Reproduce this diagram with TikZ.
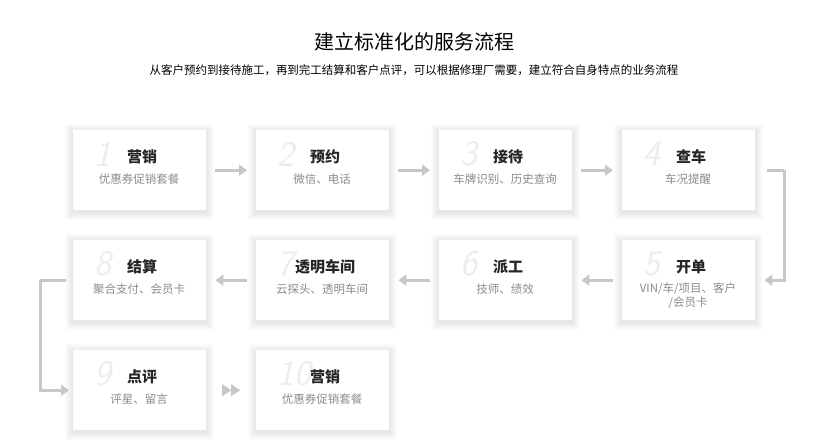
\documentclass[tikz,border=0pt]{standalone}
\usepackage{fontspec}
\setmainfont{Noto Sans CJK SC}
\usetikzlibrary{arrows.meta,calc}
\begin{document}
\begin{tikzpicture}[x=1pt,y=-1pt,
  card/.style={draw=none,fill=white,minimum width=133pt,minimum height=80pt,anchor=north west},
  ttl/.style={font=\fontsize{15}{17}\selectfont\bfseries,text=black!85},
  sub/.style={font=\fontsize{11.5}{14}\selectfont,text=black!45,align=center},
  num/.style={font=\fontsize{36}{36}\sffamily\itshape,text=black!7},
  conn/.style={draw=black!22,line width=3pt,-{Triangle[length=8pt,width=11pt]}},
  link/.style={draw=black!22,line width=3pt}]
\useasboundingbox (0,0) rectangle (828,447);
\fill[white] (0,0) rectangle (828,447);
\newcommand\softshadow[2]{\foreach \k in {1,...,8}{\fill[black,opacity=0.012] (#1-\k,#2-\k+2) rectangle (#1+133+\k,#2+80+\k+2);}}
\foreach \x/\y in {73/130,256/130,439/130,622/130,73/240,256/240,439/240,622/240,73/350,256/350}{\softshadow{\x}{\y}}
\node (t) at (414,42) {\fontsize{20}{24}\selectfont 建立标准化的服务流程};
\node (s) at (414,70) {\fontsize{11.5}{13}\selectfont 从客户预约到接待施工，再到完工结算和客户点评，可以根据修理厂需要，建立符合自身特点的业务流程};
\foreach \n/\x/\y/\ta/\tb in {1/73/130/营销/优惠券促销套餐,2/256/130/预约/微信、电话,3/439/130/接待/车牌识别、历史查询,4/622/130/查车/车况提醒,
 8/73/240/结算/聚合支付、会员卡,7/256/240/透明车间/云探头、透明车间,6/439/240/派工/技师、绩效,
 9/73/350/点评/评星、留言,10/256/350/营销/优惠券促销套餐}{
  \node[card] (c\n) at (\x,\y) {};
  \node[num,anchor=west] (n\n) at (\x+18,\y+24) {\n};
  \node[ttl] (h\n) at (\x+69,\y+27) {\ta};
  \node[sub] (d\n) at (\x+66,\y+49) {\tb};
}
\node[card] (c5) at (622,240) {};
\node[num,anchor=west] (n5) at (640,264) {5};
\node[ttl] (h5) at (691,267) {开单};
\node[sub] (d5) at (688,296) {VIN/车/项目、客户\\/会员卡};
\foreach \a/\b in {1/2,2/3,3/4}{\draw[conn] ([xshift=9pt]c\a.east) -- ([xshift=-9pt]c\b.west);}
\foreach \a/\b in {5/6,6/7,7/8}{\draw[conn] ([xshift=-9pt]c\a.west) -- ([xshift=9pt]c\b.east);}
\coordinate (r1) at ([xshift=29pt]c4.east);
\coordinate (r2) at ([xshift=29pt]c5.east);
\draw[link] ([xshift=12pt]c4.east) -- (r1);
\draw[conn] (r1) -- (r2) -- ([xshift=9pt]c5.east);
\coordinate (l1) at ([xshift=-33pt]c8.west);
\coordinate (l2) at ([xshift=-33pt]c9.west);
\draw[link] ([xshift=-7pt]c8.west) -- (l1);
\draw[conn] (l1) -- (l2) -- ([xshift=-4pt]c9.west);
\coordinate (f) at ($(c9.east)!0.5!(c10.west)$);
\fill[black!22] ([xshift=-9pt,yshift=-6pt]f) -- (f) -- ([xshift=-9pt,yshift=6pt]f) -- cycle;
\fill[black!22] ([yshift=-6pt]f) -- ([xshift=9pt]f) -- ([yshift=6pt]f) -- cycle;
\end{tikzpicture}
\end{document}
